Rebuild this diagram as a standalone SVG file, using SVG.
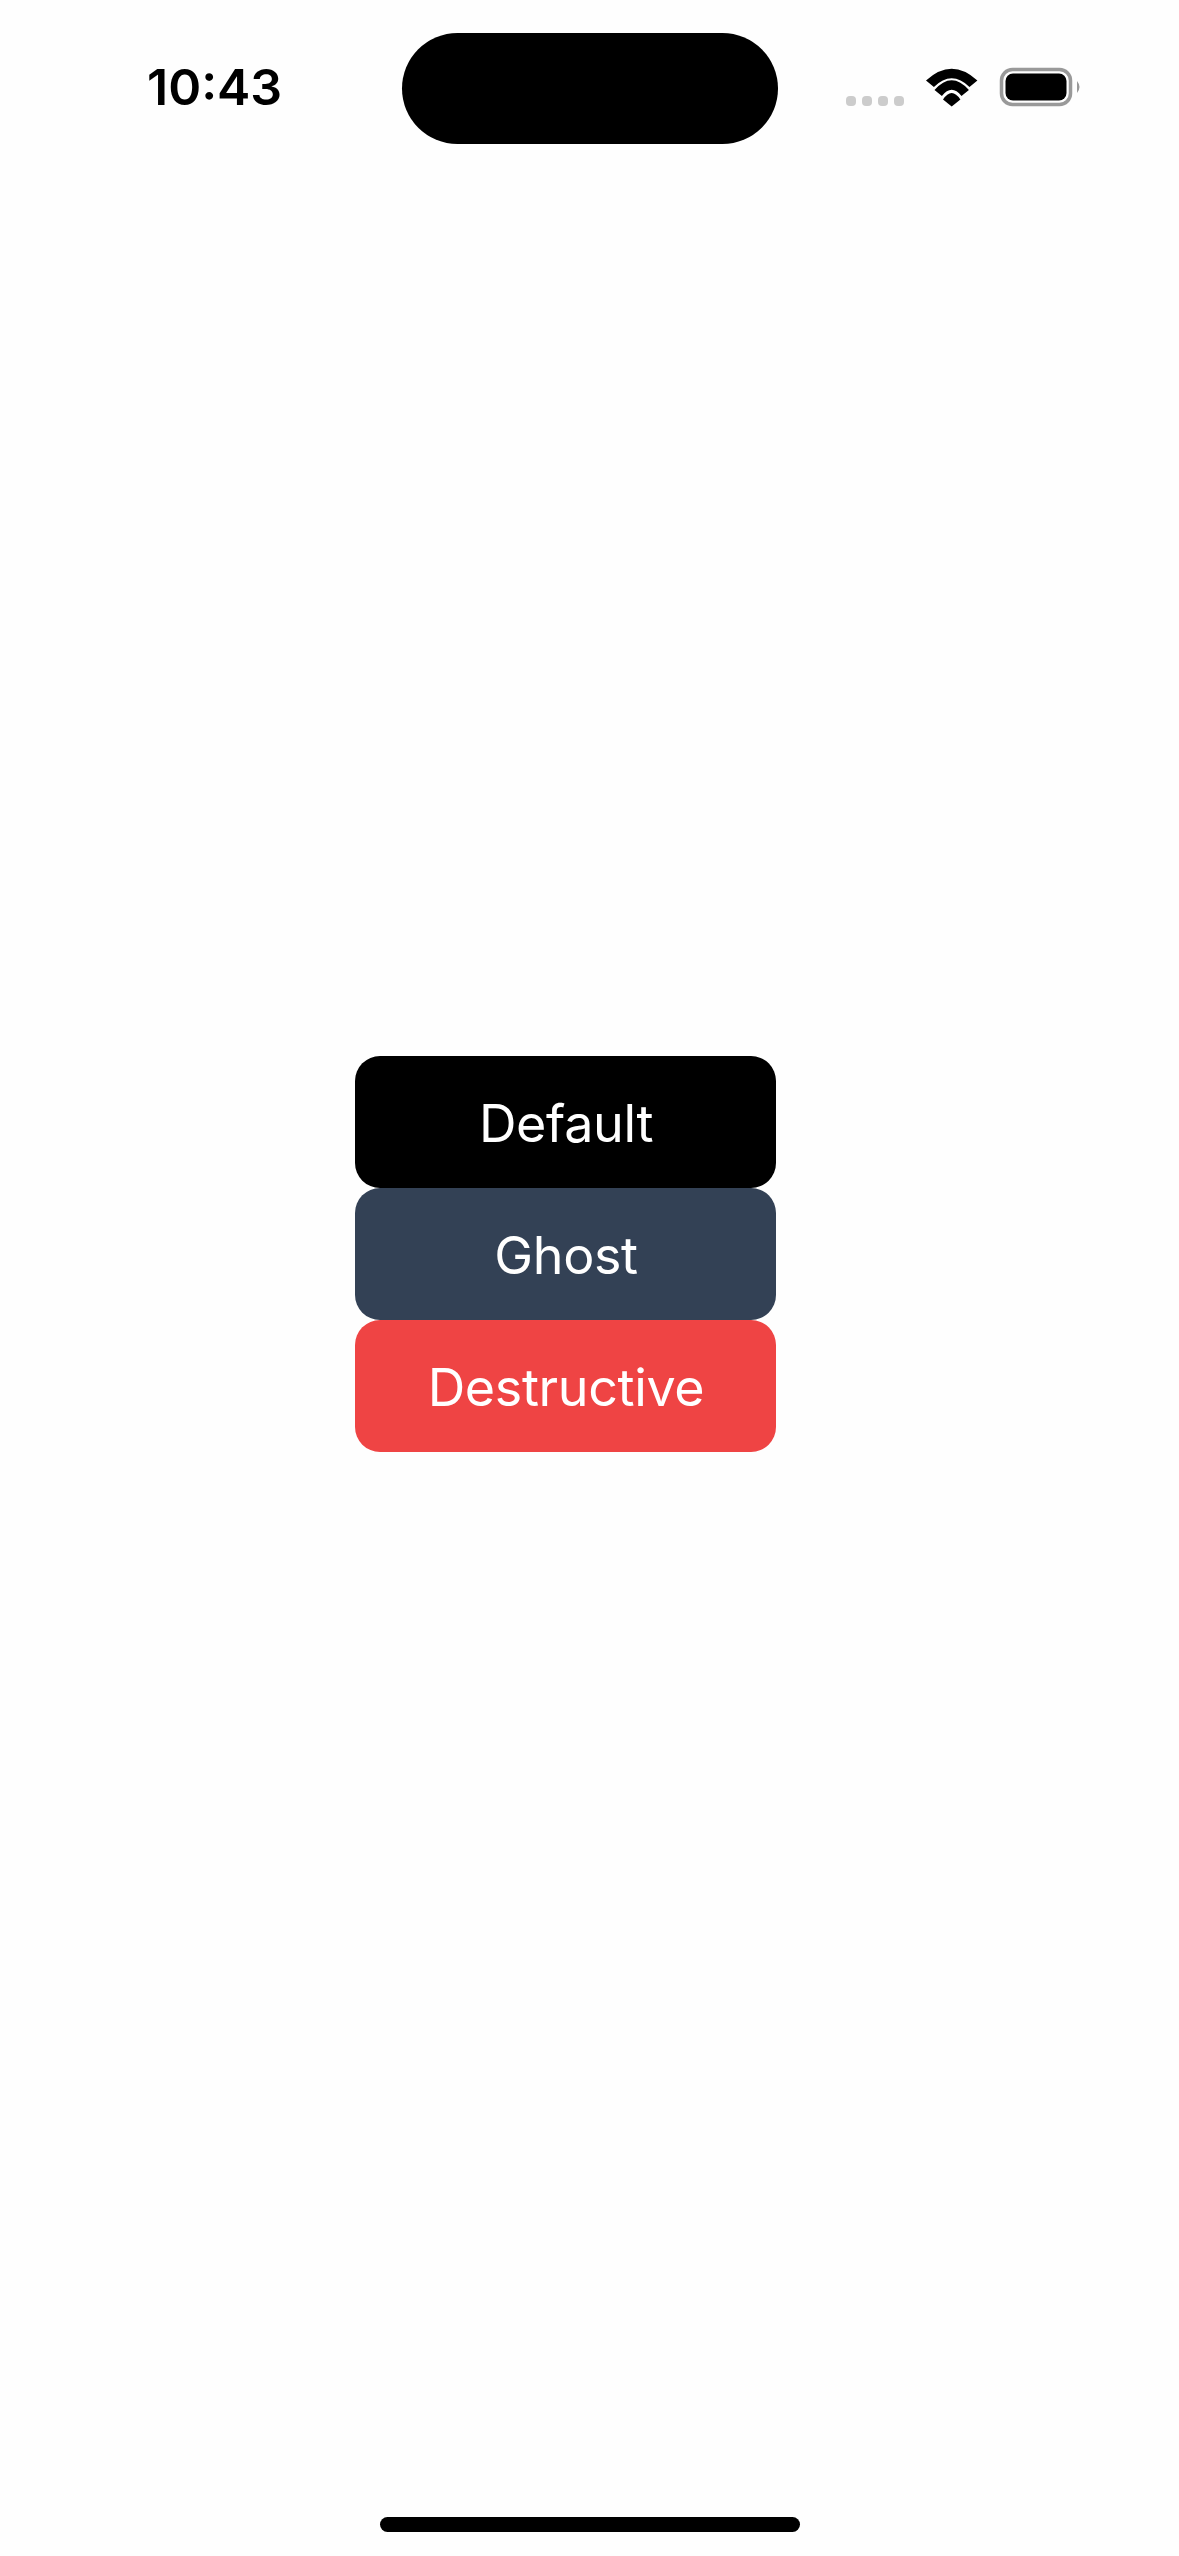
<svg xmlns="http://www.w3.org/2000/svg" width="1179" height="2556" viewBox="0 0 1179 2556">
<style>
.lbl{font-family:Inter,"Liberation Sans",sans-serif;font-size:52px;letter-spacing:-0.35px;fill:#fff;text-anchor:middle}
.dot{fill:#ccc}
</style>
<rect width="1179" height="2556" fill="#fefefe"/>
<g id="status-bar">
<text x="147" y="105" font-family="Inter,'Liberation Sans',sans-serif" font-size="50" font-weight="600" fill="#000">10:43</text>
<rect id="island" x="402" y="33" width="376" height="111" rx="55.5" fill="#000"/>
<g id="signal"><rect class="dot" x="846" y="96" width="10" height="10" rx="4"/><rect class="dot" x="862" y="96" width="10" height="10" rx="4"/><rect class="dot" x="878" y="96" width="10" height="10" rx="4"/><rect class="dot" x="894" y="96" width="10" height="10" rx="4"/></g>
<g id="wifi" fill="#000">
<path d="M926 80.500 Q951.700 57 977.400 80.500 L969.500 87 Q951.700 69.500 933.900 87 Z"/>
<path d="M934.500 90 Q951.700 70.500 968.900 90 L961.500 96 Q951.700 83.500 941.900 96 Z"/>
<path d="M943 99.500 Q951.700 86.500 960.400 99.500 L951.700 106.500 Z"/>
</g>
<g id="battery">
<rect x="1001.500" y="69.500" width="69" height="35" rx="11" fill="none" stroke="#999" stroke-width="3.500"/>
<rect x="1005.500" y="73.500" width="61" height="27" rx="7.500" fill="#000"/>
<path d="M1077 81 Q1082 87 1077 93 Z" fill="#999"/>
</g>
</g>
<g id="btn-default"><rect x="355" y="1056" width="421" height="132" rx="25" fill="#000"/><text class="lbl" x="566" y="1141.500">Default</text></g>
<g id="btn-ghost"><rect x="355" y="1188" width="421" height="132" rx="25" fill="#334155"/><text class="lbl" x="566" y="1273.500">Ghost</text></g>
<g id="btn-destructive"><rect x="355" y="1320" width="421" height="132" rx="25" fill="#ef4444"/><text class="lbl" x="566" y="1405.500">Destructive</text></g>
<rect id="home-indicator" x="380" y="2517" width="420" height="15" rx="7.500" fill="#000"/>
</svg>
